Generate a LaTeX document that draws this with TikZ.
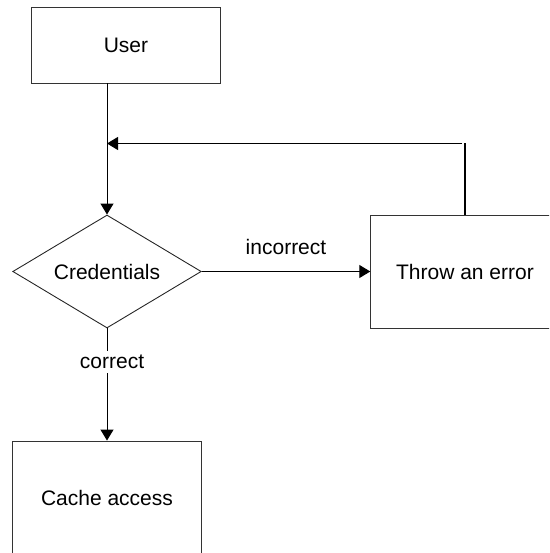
\documentclass[tikz,border=0pt]{standalone}
\usepackage{fontspec}
\setmainfont{Liberation Sans}
\usetikzlibrary{shapes.geometric,arrows.meta}
\begin{document}
\begin{tikzpicture}[x=1pt,y=-1pt,
  every node/.style={font=\fontsize{21}{25}\selectfont, inner sep=0pt},
  box/.style={draw=black!80, line width=0.9pt, fill=white, minimum width=188.5pt, minimum height=113pt},
  decision/.style={diamond, aspect=1.66, draw=black!85, line width=0.9pt, minimum width=188.5pt, minimum height=113pt},
  flow/.style={draw=black, line width=1pt, -{Triangle[length=11pt,width=13pt]}},
  tag/.style={fill=white, inner sep=4pt}]
  \useasboundingbox (0,0) rectangle (549,553);
  \clip (0,0) rectangle (549,553);

  % process boxes and the decision
  \node[box, minimum height=76pt] (user) at (126,45) {User};
  \node[decision] (cred) at (107,271.5) {Credentials};
  \node[box] (err) at (465,271.5) {Throw an error};
  \node[box] (cache) at (107,497.5) {Cache access};

  % main flow
  \draw[flow] (cred.north |- user.south) -- (cred.north);
  \draw[flow] (cred.east) -- (err.west) node[midway, above=16pt] (inc) {incorrect};
  \draw[flow] (cred.south) -- (cache.north);
  \node[tag] (cor) at (112,362) {correct};

  % retry loop back to the credentials check
  \coordinate (back) at (107,143.5);
  \draw[line width=1.6pt] (err.north) -- (err.north |- back);
  \draw[flow] ([xshift=-3pt]err.north |- back) -- (back);
\end{tikzpicture}
\end{document}
